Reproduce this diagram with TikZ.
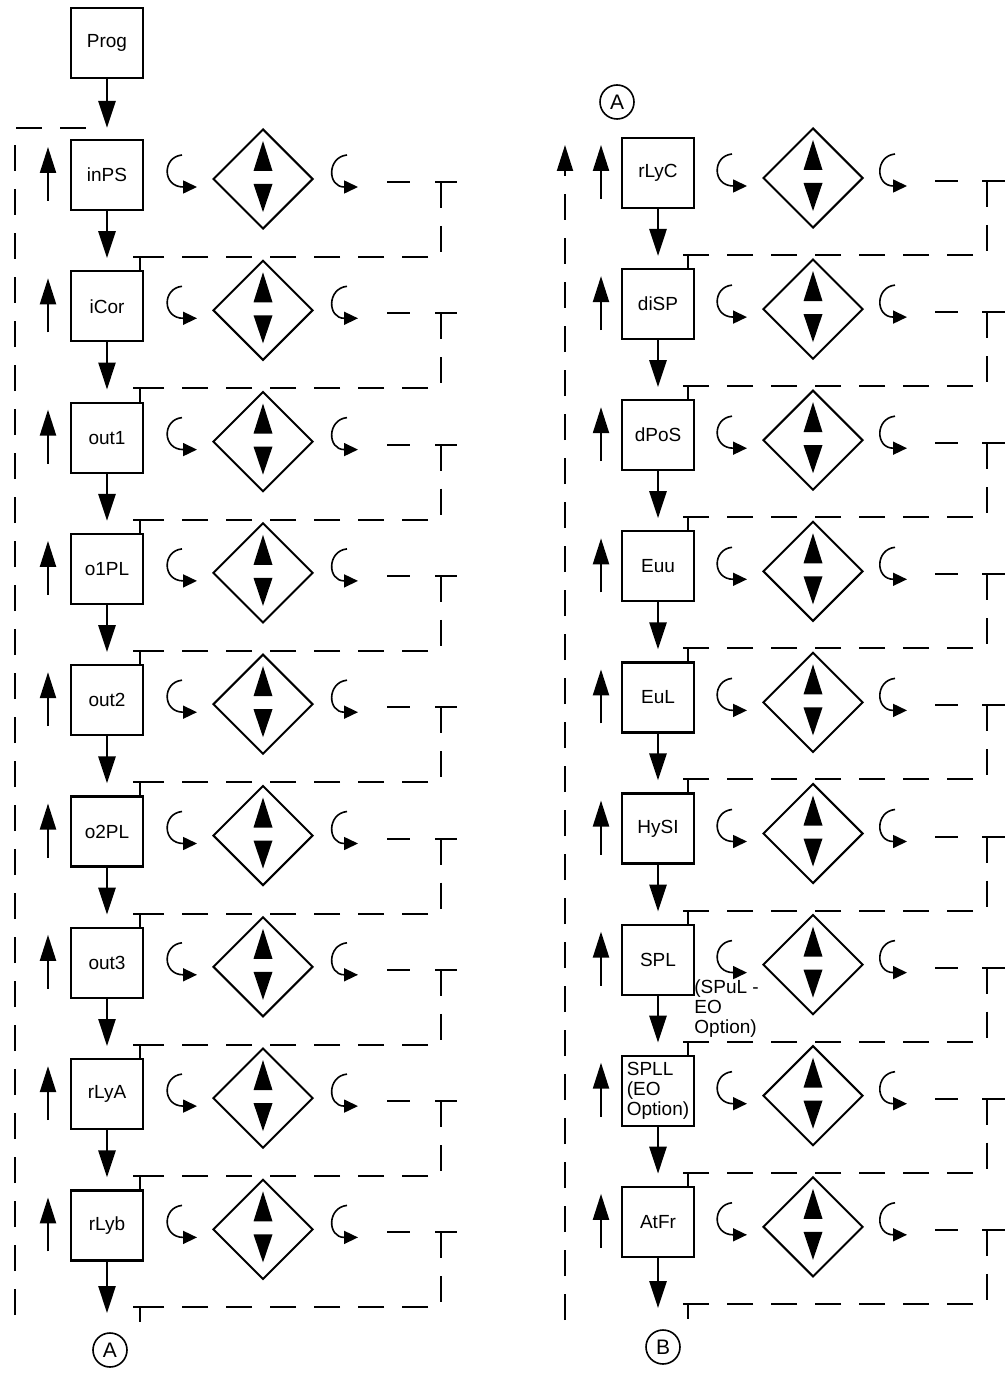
\documentclass[tikz,border=0pt]{standalone}
\usepackage{fontspec}
\setmainfont{Liberation Sans}
\usetikzlibrary{arrows.meta,shapes.geometric,calc}
\begin{document}
\begin{tikzpicture}[x=0.5pt,y=-0.5pt,
  box/.style={draw,line width=1.1pt,minimum width=36pt,minimum height=35pt,inner sep=0pt,font=\fontsize{9.5}{10}\selectfont,align=left},
  dia/.style={draw,diamond,aspect=1,line width=1pt,minimum width=50pt,minimum height=50pt,inner sep=0pt},
  arr/.style={line width=1.4pt,-{Triangle[length=13.5pt,width=8.5pt]}},
  uparr/.style={line width=1.1pt,-{Triangle[length=13pt,width=8pt]}},
  curv/.style={line width=0.8pt,-{Triangle[length=7pt,width=6.5pt]}},
  dsh/.style={line width=1pt,dash pattern=on 13pt off 9pt},
  solidln/.style={line width=1pt},
  circ/.style={draw,circle,line width=0.8pt,minimum size=17pt,inner sep=0pt,font=\fontsize{10.5}{10}\selectfont},
  note/.style={inner sep=0pt,align=left,font=\fontsize{9.5}{10}\selectfont}
]
\useasboundingbox (0,0) rectangle (1005,1374);

% ---------- left column ----------
\node[box] (Prog) at (107,43) {Prog};
\foreach \lab [count=\i] in {inPS,iCor,out1,o1PL,out2,o2PL,out3,rLyA,rLyb}{
  \pgfmathsetmacro\yb{175+131.3*(\i-1)}
  \node[box] (L\i) at (107,\yb) {\lab};
  \coordinate (LUa\i) at (48,\yb+26);
  \coordinate (LUb\i) at (48,\yb-28);
  \draw[uparr] (LUa\i) -- (LUb\i);
  \node[dia] (LD\i) at (263,\yb+4) {};
  \fill[shift={(LD\i.center)}] (0,-38) -- (9.5,-8) -- (-9.5,-8) -- cycle;
  \fill[shift={(LD\i.center)}] (0,33) -- (9.5,5) -- (-9.5,5) -- cycle;
  \draw[curv,shift={(LD\i.center)}] (-81,-24) .. controls (-101,-22) and (-101,8) .. (-66,8);
  \draw[curv,shift={(LD\i.center)}] (84,-24) .. controls (64,-22) and (64,8) .. (95,8);
  \draw[solidln] (387,\yb+7) -- (410,\yb+7);
  \draw[solidln] (435,\yb+7) -- (457,\yb+7);
  \draw[dsh] (441,\yb+7) -- (441,\yb+82) -- (150,\yb+82);
  \draw[solidln] (133,\yb+82) -- (150,\yb+82);
  \draw[solidln] (140,\yb+82) -- (140,\yb+97);
}
\draw[arr,shorten >=5.5pt] (Prog) -- (L1);
\foreach \i [evaluate=\i as \j using int(\i+1)] in {1,...,8}{
  \draw[arr,shorten >=6pt] (L\i) -- (L\j);
}
\coordinate (LendA) at (107,1313);
\draw[arr] (L9) -- (LendA);
\node[circ] (cA1) at (110,1350) {A};
\coordinate (LLbot) at (15,1315);
\coordinate (LLtop) at (98,128);
\draw[dsh] (LLbot) -- (15,128) -- (LLtop);

% ---------- right column ----------
\node[circ] (cA2) at (617,102) {A};
\foreach \lab [count=\i] in {rLyC,diSP,dPoS,Euu,EuL,HySI,SPL,{SPLL\\(EO\\Option)},AtFr}{
  \pgfmathsetmacro\yb{173+131.1*(\i-1)}
  \node[box] (R\i) at (658,\yb) {\lab};
  \coordinate (RUa\i) at (601,\yb+26);
  \coordinate (RUb\i) at (601,\yb-28);
  \draw[uparr] (RUa\i) -- (RUb\i);
  \node[dia] (RD\i) at (813,\yb+5) {};
  \fill[shift={(RD\i.center)}] (0,-38) -- (9.5,-8) -- (-9.5,-8) -- cycle;
  \fill[shift={(RD\i.center)}] (0,33) -- (9.5,5) -- (-9.5,5) -- cycle;
  \draw[curv,shift={(RD\i.center)}] (-81,-24) .. controls (-101,-22) and (-101,8) .. (-66,8);
  \draw[curv,shift={(RD\i.center)}] (82,-24) .. controls (62,-22) and (62,8) .. (94,8);
  \draw[solidln] (935,\yb+8) -- (958,\yb+8);
  \draw[solidln] (982,\yb+8) -- (1005,\yb+8);
  \draw[dsh] (987,\yb+8) -- (987,\yb+82) -- (698,\yb+82);
  \draw[solidln] (683,\yb+82) -- (698,\yb+82);
  \draw[solidln] (688,\yb+82) -- (688,\yb+97);
}
\foreach \i [evaluate=\i as \j using int(\i+1)] in {1,...,8}{
  \draw[arr,shorten >=6pt] (R\i) -- (R\j);
}
\node[note,anchor=north west] (spul) at (694,979) {(SPuL -\\EO\\Option)};
\coordinate (RendB) at (658,1308);
\draw[arr] (R9) -- (RendB);
\node[circ] (cB) at (663,1347) {B};
\coordinate (RLbot) at (565,1320);
\coordinate (RLtop) at (565,145);
\draw[dsh,-{Triangle[length=13pt,width=8pt]}] (RLbot) -- (RLtop);
\end{tikzpicture}
\end{document}
